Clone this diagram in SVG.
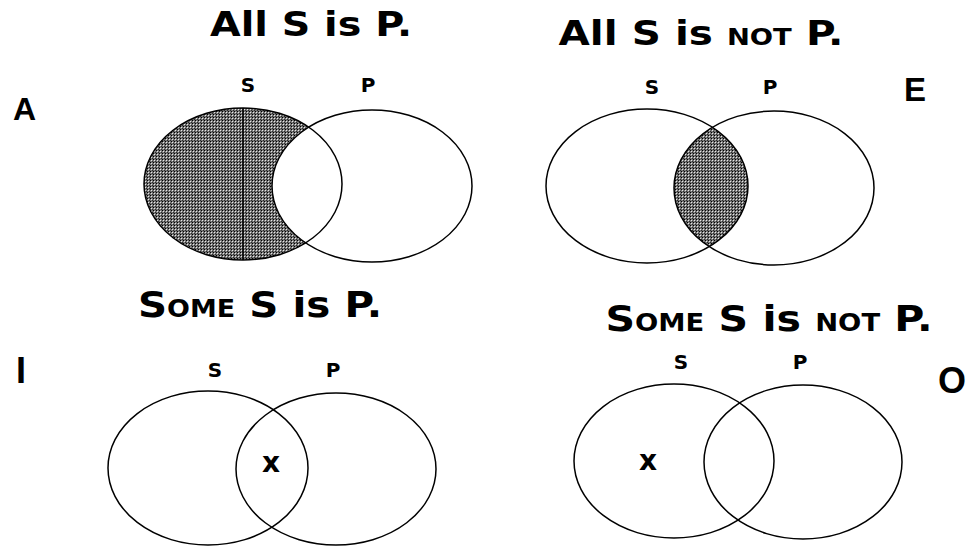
<svg xmlns="http://www.w3.org/2000/svg" width="972" height="546" viewBox="0 0 972 546">
<style>
.title{font-family:"DejaVu Sans","Liberation Sans",sans-serif;font-weight:bold;fill:#000}
.lab{font-family:"DejaVu Sans","Liberation Sans",sans-serif;font-weight:bold;font-size:20px;text-anchor:middle;fill:#000}
.big{font-family:"Liberation Sans","DejaVu Sans",sans-serif;font-weight:bold;fill:#000}
.ring{fill:none;stroke:#000;stroke-width:1.5}
.xm{font-family:"DejaVu Sans","Liberation Sans",sans-serif;font-weight:bold;font-size:28px;text-anchor:middle;fill:#000}
</style>
<defs>
<pattern id="dots" width="3" height="3" patternUnits="userSpaceOnUse">
<rect width="3" height="3" fill="#767676"/>
<rect x="0" y="0" width="1" height="1" fill="#000"/>
<rect x="1" y="1" width="1" height="1" fill="#e8e8e8"/>
<rect x="2" y="2" width="1" height="1" fill="#2a2a2a"/>
</pattern>
<clipPath id="clipE"><ellipse cx="647" cy="186" rx="101" ry="77"/></clipPath>
</defs>
<rect width="972" height="546" fill="#fff"/>

<g id="panel-A">
<text class="title" x="311" y="36" font-size="33" text-anchor="middle" textLength="202" lengthAdjust="spacingAndGlyphs">All S is P.</text>
<text class="big" x="13" y="120" font-size="32">A</text>
<text class="lab" x="248" y="92">S</text>
<text class="lab" x="368" y="92">P</text>
<ellipse cx="243" cy="184" rx="99" ry="76" fill="url(#dots)"/>
<ellipse cx="372" cy="186" rx="100" ry="76" fill="#fff"/>
<ellipse class="ring" cx="243" cy="184" rx="99" ry="76"/>
<ellipse class="ring" cx="372" cy="186" rx="100" ry="76"/>
<line x1="243" y1="108" x2="243" y2="260" stroke="#000" stroke-width="1.5"/>
</g>

<g id="panel-E">
<text class="title" x="701" y="45" font-size="34" text-anchor="middle" textLength="285" lengthAdjust="spacingAndGlyphs">All S is <tspan font-size="23">NOT</tspan> P.</text>
<text class="big" x="904" y="101" font-size="33">E</text>
<text class="lab" x="652" y="94">S</text>
<text class="lab" x="770" y="94">P</text>
<ellipse cx="774" cy="188" rx="100" ry="77" fill="url(#dots)" clip-path="url(#clipE)"/>
<ellipse class="ring" cx="647" cy="186" rx="101" ry="77"/>
<ellipse class="ring" cx="774" cy="188" rx="100" ry="77"/>
</g>

<g id="panel-I">
<text class="title" x="260" y="317" font-size="36" text-anchor="middle" textLength="244" lengthAdjust="spacingAndGlyphs">S<tspan font-size="24">OME</tspan> S is P.</text>
<text class="big" x="16" y="383" font-size="36">I</text>
<text class="lab" x="215" y="377">S</text>
<text class="lab" x="333" y="377">P</text>
<ellipse class="ring" cx="208" cy="468" rx="100" ry="77"/>
<ellipse class="ring" cx="336" cy="469" rx="100" ry="76"/>
<text class="xm" x="271" y="472">x</text>
</g>

<g id="panel-O">
<text class="title" x="769" y="331" font-size="36" text-anchor="middle" textLength="327" lengthAdjust="spacingAndGlyphs">S<tspan font-size="24">OME</tspan> S is <tspan font-size="24">NOT</tspan> P.</text>
<text class="big" x="938" y="393" font-size="36">O</text>
<text class="lab" x="681" y="369">S</text>
<text class="lab" x="800" y="369">P</text>
<ellipse class="ring" cx="674" cy="461" rx="100" ry="77"/>
<ellipse class="ring" cx="803" cy="462" rx="99" ry="77"/>
<text class="xm" x="648" y="470">x</text>
</g>

<g id="connectors"></g>
</svg>
